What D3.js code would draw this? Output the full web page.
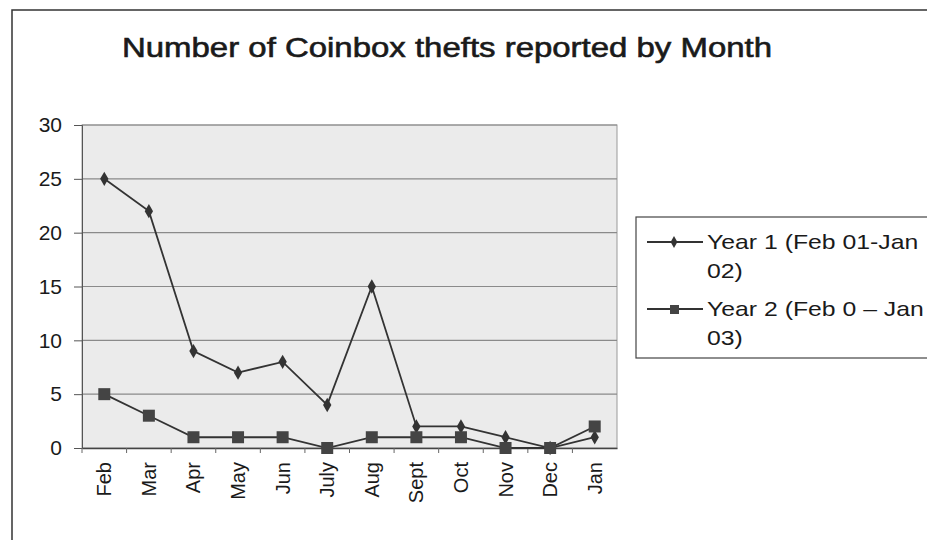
<!DOCTYPE html>
<html>
<head>
<meta charset="utf-8">
<script src="https://cdn.jsdelivr.net/npm/d3@7"></script>
<style>
  body { margin: 0; background: #fff; }
  text { font-family: "Liberation Sans", Arial, sans-serif; fill: #1a1a1a; }
</style>
</head>
<body>
<script>
const months = ['Feb', 'Mar', 'Apr', 'May', 'Jun', 'July', 'Aug', 'Sept', 'Oct', 'Nov', 'Dec', 'Jan'];
const year1 = [25, 22, 9, 7, 8, 4, 15, 2, 2, 1, 0, 1];
const year2 = [5, 3, 1, 1, 1, 0, 1, 1, 1, 0, 0, 2];
const yTicks = [0, 5, 10, 15, 20, 25, 30];
const seriesNames = ['Year 1 (Feb 01-Jan', 'Year 2 (Feb 0 \u2013 Jan'];
const seriesNames2 = ['02)', '03)'];

let width = 927;
let height = 540;
let margin = { top: 125, right: 310, bottom: 92, left: 82 };

const svg = d3.select('body').append('svg')
  .attr('width', width)
  .attr('height', height);

// chart border
svg.append('rect')
  .attr('x', 12).attr('y', 10)
  .attr('width', 940).attr('height', 560)
  .attr('fill', 'none')
  .attr('stroke', '#333')
  .attr('stroke-width', 1.5);

// title (scan is a bit stretched sideways, so fit to its width)
svg.append('text')
  .attr('x', 122).attr('y', 57)
  .attr('textLength', 650)
  .attr('lengthAdjust', 'spacingAndGlyphs')
  .style('font-size', '27px')
  .style('fill', '#1a1a1a')
  .style('stroke', '#1a1a1a')
  .style('stroke-width', 0.6)
  .text('Number of Coinbox thefts reported by Month');

// scales
let x = d3.scaleBand().domain(months).range([margin.left, width - margin.right]);
let y = d3.scaleLinear().domain([0, 30]).range([height - margin.bottom, margin.top]);

// plot background
svg.append('rect')
  .attr('x', margin.left).attr('y', y(30))
  .attr('width', x.range()[1] - margin.left)
  .attr('height', y(0) - y(30))
  .attr('fill', '#ebebeb')
  .attr('stroke', '#999');

// gridlines
svg.append('g')
  .selectAll('line')
  .data(yTicks.filter(d => d > 0))
  .enter().append('line')
  .attr('x1', margin.left).attr('x2', x.range()[1])
  .attr('y1', d => y(d)).attr('y2', d => y(d))
  .attr('stroke', '#8a8a8a')
  .attr('stroke-width', 1.2);

// axes
let yAxis = g => g.attr('transform', `translate(${margin.left}, 0)`)
  .call(d3.axisLeft(y).tickValues(yTicks).tickSize(8).tickPadding(12))
  .call(g => g.select('.domain').attr('stroke', '#555'))
  .call(g => g.selectAll('.tick line').attr('stroke', '#555'))
  .call(g => g.selectAll('.tick text')
    .style('font-size', '21px')
    .style('font-family', '"Liberation Sans", Arial, sans-serif')
    .attr('fill', '#1a1a1a'));

let xAxis = g => g.attr('transform', `translate(0, ${y(0)})`)
  .call(d3.axisBottom(x).tickSize(0).tickPadding(0))
  .call(g => g.select('.domain').attr('stroke', '#444').attr('stroke-width', 1.5))
  .call(g => g.selectAll('.tick text')
    .style('font-size', '20px')
    .style('font-family', '"Liberation Sans", Arial, sans-serif')
    .attr('fill', '#1a1a1a')
    .attr('text-anchor', 'end')
    .attr('dy', '0.35em')
    .attr('x', -14)
    .attr('y', 0)
    .attr('transform', 'rotate(-90)'));

svg.append('g').call(yAxis);
svg.append('g').call(xAxis);

// category tick marks between bands
svg.append('g')
  .selectAll('line')
  .data(months)
  .enter().append('line')
  .attr('x1', d => x(d)).attr('x2', d => x(d))
  .attr('y1', y(0)).attr('y2', y(0) + 5)
  .attr('stroke', '#666');

const cx = d => x(d) + x.bandwidth() / 2;
const line = d3.line()
  .x((d, i) => cx(months[i]))
  .y(d => y(d));

// series lines
[year1, year2].forEach(s => {
  svg.append('path')
    .datum(s)
    .attr('d', line)
    .attr('fill', 'none')
    .attr('stroke', '#333')
    .attr('stroke-width', 1.8);
});

// markers
svg.append('g')
  .selectAll('path')
  .data(year1)
  .enter().append('path')
  .attr('d', d3.symbol(d3.symbolDiamond, 60))
  .attr('transform', (d, i) => `translate(${cx(months[i])}, ${y(d)})`)
  .attr('fill', '#333');

svg.append('g')
  .selectAll('rect')
  .data(year2)
  .enter().append('rect')
  .attr('x', (d, i) => cx(months[i]) - 6)
  .attr('y', d => y(d) - 6)
  .attr('width', 12).attr('height', 12)
  .attr('fill', '#444');

// legend
const legend = svg.append('g');
legend.append('rect')
  .attr('x', 636).attr('y', 217)
  .attr('width', 320).attr('height', 141)
  .attr('fill', '#fff')
  .attr('stroke', '#444')
  .attr('stroke-width', 1.2);

const legY = [242, 309];
legY.forEach((ly, i) => {
  legend.append('line')
    .attr('x1', 647).attr('x2', 703)
    .attr('y1', ly).attr('y2', ly)
    .attr('stroke', '#333').attr('stroke-width', 1.8);
  if (i === 0) {
    legend.append('path')
      .attr('d', d3.symbol(d3.symbolDiamond, 40))
      .attr('transform', `translate(674, ${ly})`)
      .attr('fill', '#333');
  } else {
    legend.append('rect')
      .attr('x', 670).attr('y', ly - 4)
      .attr('width', 9).attr('height', 9)
      .attr('fill', '#444');
  }
  legend.append('text')
    .attr('transform', `translate(707, ${ly + 7}) scale(1.24, 1)`)
    .style('font-size', '20px')
    .text(seriesNames[i]);
  legend.append('text')
    .attr('transform', `translate(707, ${ly + 36}) scale(1.24, 1)`)
    .style('font-size', '20px')
    .text(seriesNames2[i]);
});
</script>
</body>
</html>
